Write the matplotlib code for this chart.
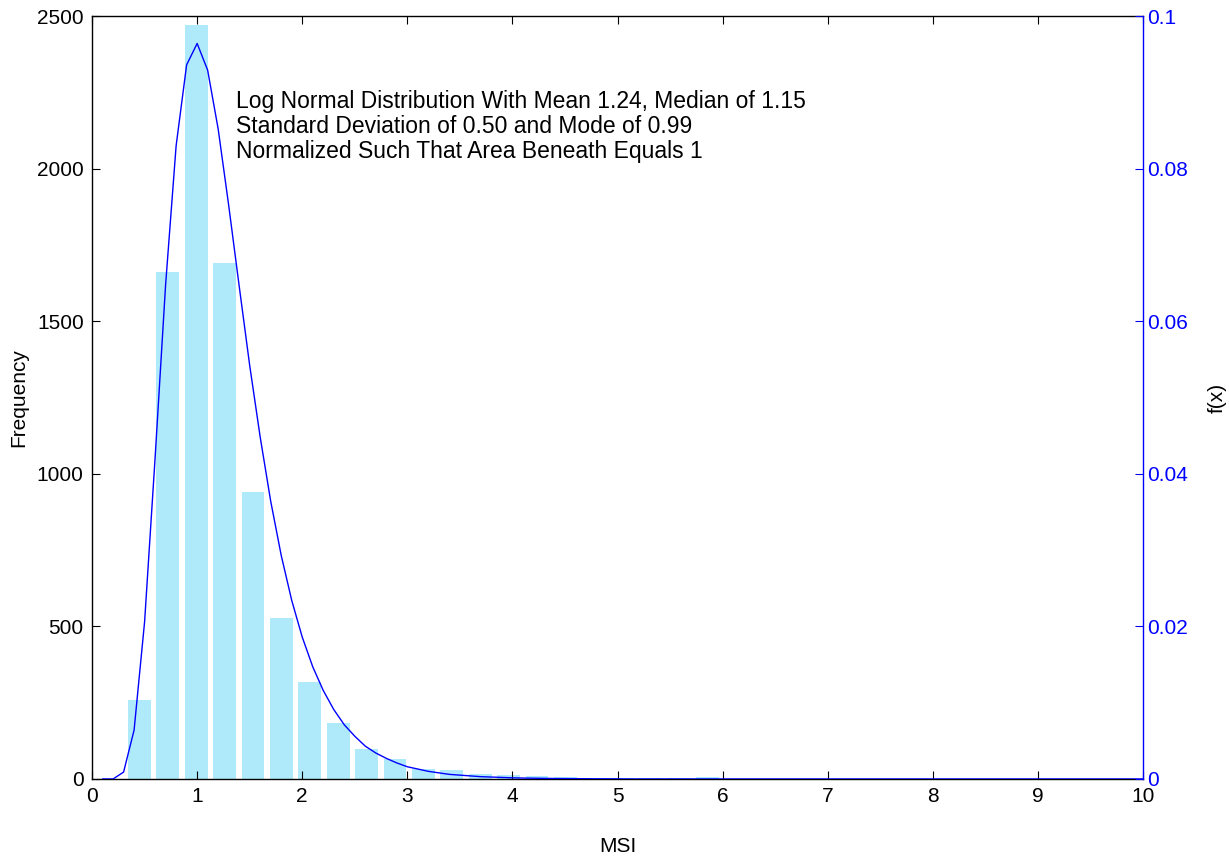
import matplotlib
matplotlib.use("Agg")
import matplotlib.pyplot as plt

plt.rcParams['font.family'] = ['Liberation Sans', 'DejaVu Sans']

# histogram bins (centres) and counts
bin_start = 0.45
bin_width = 0.2703
counts = [259, 1660, 2470, 1690, 940, 528, 318, 183, 97, 65,
          33, 29, 16, 12, 10, 6, 4, 3, 2, 2,
          6, 1, 1, 1, 0, 1, 0, 0, 1, 0,
          0, 0, 0, 0, 0, 1]
centers = [bin_start + bin_width * i for i in range(len(counts))]

# normalised log normal curve, one point every 0.1 from 0.1 to 10
fx_head = [0.0, 0.0, 0.0009, 0.0064, 0.0206, 0.0421, 0.0648, 0.0830, 0.0936, 0.0964,
           0.0929, 0.0852, 0.0752, 0.0646, 0.0542, 0.0448, 0.0364, 0.0293, 0.0234, 0.0186,
           0.0147, 0.0116, 0.0091, 0.0071, 0.0056, 0.0043, 0.0034, 0.0027, 0.0021, 0.0016,
           0.0013, 0.0010, 0.0008, 0.0006, 0.0005, 0.0004, 0.0003, 0.00025, 0.0002, 0.00015,
           0.00012, 0.0001, 0.00008, 0.00006, 0.00005, 0.00004, 0.00003, 0.00002, 0.00002, 0.00001]
fx = fx_head + [0.0] * (100 - len(fx_head))
xs = [round(0.1 * (i + 1), 1) for i in range(len(fx))]

note = ["Log Normal Distribution With Mean 1.24, Median of 1.15",
        "Standard Deviation of 0.50 and Mode of 0.99",
        "Normalized Such That Area Beneath Equals 1"]

fig = plt.figure(figsize=(12.29, 8.56), dpi=100)
ax1 = fig.add_axes([0.0749, 0.09, 0.8551, 0.8913])
ax1.bar(centers, counts, width=bin_width * 0.8, color='#AEEAFA', edgecolor='none', zorder=1)
ax1.set_xlim(0, 10)
ax1.set_ylim(0, 2500)
ax1.set_xticks(range(0, 11))
ax1.set_yticks(range(0, 2501, 500))
ax1.tick_params(direction='in', length=6, width=0.8, labelsize=15, top=True, right=False, pad=6)
ax1.set_xlabel("MSI", fontsize=15, labelpad=22)
ax1.set_ylabel("Frequency", fontsize=15, labelpad=6)
for s in ax1.spines.values():
    s.set_linewidth(1.0)
ax1.spines['right'].set_visible(False)

ax2 = ax1.twinx()
ax2.plot(xs, fx, color='blue', linewidth=1.0)
ax2.set_ylim(0, 0.1)
ax2.set_yticks([0, 0.02, 0.04, 0.06, 0.08, 0.1])
ax2.set_yticklabels(['0', '0.02', '0.04', '0.06', '0.08', '0.1'])
ax2.tick_params(axis='y', direction='in', length=6, width=0.8, labelsize=15,
                colors='blue', pad=3)
for side in ['top', 'bottom', 'left']:
    ax2.spines[side].set_visible(False)
ax2.spines['right'].set_color('blue')
ax2.spines['right'].set_linewidth(1.0)
ax2.set_ylabel("f(x)", fontsize=15, labelpad=14)

for i, line in enumerate(note):
    ax1.text(1.37, 2219 - i * 82, line, fontsize=16.5, va='center', ha='left')

fig.savefig("out.png", dpi=100)
